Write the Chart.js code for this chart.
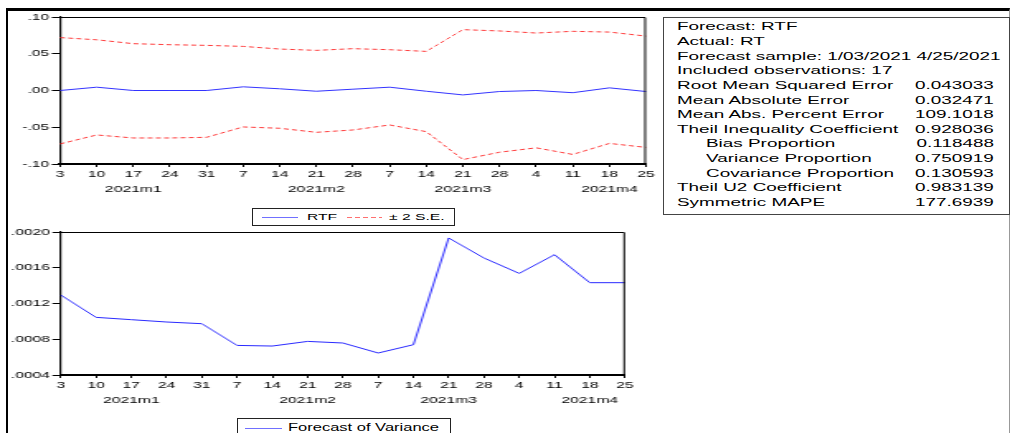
<!DOCTYPE html>
<html>
<head>
<meta charset="utf-8">
<script src="https://cdn.jsdelivr.net/npm/chart.js@4.4.1/dist/chart.umd.min.js"></script>
<style>
    body { margin: 0; background: #fff; width: 1010px; height: 433px; overflow: hidden; position: relative;
           font-family: "Liberation Sans", Arial, sans-serif; color: #000; }
    .frame { position: absolute; left: 6px; top: 8px; width: 1001px; height: 430px;
             border-top: 3px solid #000; border-left: 2px solid #000; border-right: 1px solid #999; }
    .wrap { position: absolute; left: 0; transform-origin: 0 0; transform: scaleX(1.65); }
    .legend { position: absolute; border: 1px solid #222; background: #fff; }
    .swatch { position: absolute; height: 1px; }
    .txt { position: absolute; white-space: nowrap; transform-origin: 0 50%; }
    .stats { position: absolute; left: 663px; top: 17px; width: 345px; height: 196px; border: 1px solid #444; }
</style>
</head>
<body>
<div class="frame"></div>
<div class="wrap" style="top:0"><canvas id="canvas1" width="400" height="200"></canvas></div>
<div class="wrap" style="top:220px"><canvas id="canvas2" width="390" height="200"></canvas></div>

<div class="legend" style="left:252px;top:208px;width:201px;height:16px">
    <div class="swatch" style="left:9px;top:8px;width:36px;background:#7070ff"></div>
    <div class="txt" id="legRtf" style="left:54px;top:1px;font-size:9.5px;line-height:13px;transform:scaleX(1.65)"></div>
    <div class="swatch" style="left:94px;top:8px;width:35px;background:repeating-linear-gradient(90deg,#ff7070 0 5px,transparent 5px 8px)"></div>
    <div class="txt" id="legSe" style="left:136px;top:1px;font-size:9.5px;line-height:13px;transform:scaleX(1.65)"></div>
</div>
<div class="legend" style="left:237px;top:418px;width:212px;height:22px">
    <div class="swatch" style="left:7px;top:9px;width:37px;background:#7070ff"></div>
    <div class="txt" id="legVar" style="left:50px;top:2px;font-size:10px;line-height:13px;transform:scaleX(1.65)"></div>
</div>
<div class="stats" id="stats"></div>

<script>
// x axis: week days, month names under some of them
const days = ['3', '10', '17', '24', '31', '7', '14', '21', '28', '7', '14', '21', '28', '4', '11', '18', '25'];
const monthIndex = [2, 7, 11, 15];
const monthNames = ['2021m1', '2021m2', '2021m3', '2021m4'];

// top chart
const rtf = [0.0, 0.0045, 0.0, 0.0, 0.0, 0.005, 0.0023, -0.001, 0.0018, 0.0045, -0.001, -0.006, -0.0014, 0.0, -0.003, 0.0036, -0.0014];
const upperSE = [0.072, 0.069, 0.0637, 0.0623, 0.0614, 0.060, 0.0564, 0.0546, 0.0569, 0.0555, 0.0532, 0.0828, 0.081, 0.0782, 0.0805, 0.0795, 0.074];
const lowerSE = [-0.0727, -0.0605, -0.0646, -0.0646, -0.0637, -0.0496, -0.0514, -0.0569, -0.0537, -0.0469, -0.056, -0.094, -0.084, -0.078, -0.087, -0.072, -0.0774];

// bottom chart
const forecastVariance = [0.001295, 0.001045, 0.001019, 0.000993, 0.000974, 0.000731, 0.000724, 0.000776, 0.000758, 0.000646, 0.000739, 0.001933, 0.001709, 0.001537, 0.001746, 0.001433, 0.001433];

// statistics box
const statLabels = ['Forecast: RTF', 'Actual: RT', 'Forecast sample: 1/03/2021 4/25/2021', 'Included observations: 17',
    'Root Mean Squared Error', 'Mean Absolute Error', 'Mean Abs. Percent Error', 'Theil Inequality Coefficient',
    'Bias Proportion', 'Variance Proportion', 'Covariance Proportion', 'Theil U2 Coefficient', 'Symmetric MAPE'];
const statValues = ['', '', '', '', '0.043033', '0.032471', '109.1018', '0.928036', '0.118488', '0.750919', '0.130593', '0.983139', '177.6939'];
const statIndent = [8, 9, 10];

const legendNames = ['RTF', '\u00b1 2 S.E.', 'Forecast of Variance'];

$id = function (id) { return document.getElementById(id); };
$id('legRtf').textContent = legendNames[0];
$id('legSe').textContent = legendNames[1];
$id('legVar').textContent = legendNames[2];

// stats rows
let box = $id('stats');
for (let i = 0; i < statLabels.length; i++) {
    let y = 26.3 + i * 14.64 - 17 - 1 - 7;
    let lab = document.createElement('div');
    lab.className = 'txt';
    lab.textContent = statLabels[i];
    lab.style.cssText = 'left:' + (statIndent.includes(i) ? 42 : 13) + 'px;top:' + y + 'px;font-size:10.5px;line-height:14px;transform:scaleX(1.8)';
    box.appendChild(lab);
    if (statValues[i] !== '') {
        let val = document.createElement('div');
        val.className = 'txt';
        val.textContent = statValues[i];
        val.style.cssText = 'right:15px;top:' + y + 'px;font-size:10.5px;line-height:14px;transform:scaleX(1.8);transform-origin:100% 50%';
        box.appendChild(val);
    }
}

// top and right edge of the plot box
const boxLines = {
    id: 'boxLines',
    afterDatasetsDraw(chart) {
        let a = chart.chartArea, ctx = chart.ctx;
        ctx.save();
        ctx.strokeStyle = '#000';
        ctx.lineWidth = 1;
        ctx.beginPath();
        ctx.moveTo(a.left, a.top + 0.5);
        ctx.lineTo(a.right - 0.5, a.top + 0.5);
        ctx.lineTo(a.right - 0.5, a.bottom);
        ctx.stroke();
        ctx.restore();
    }
};

function xLabel(val, idx) {
    let k = monthIndex.indexOf(idx);
    return k >= 0 ? [days[idx], monthNames[k]] : days[idx];
}

function makeChart(target, datasets, y, pad, yWidth, xHeight) {
    return new Chart($id(target), {
        type: 'line',
        data: { labels: days, datasets: datasets },
        plugins: [boxLines],
        options: {
            responsive: false,
            animation: false,
            devicePixelRatio: 1,
            layout: { padding: pad },
            plugins: { legend: { display: false }, tooltip: { enabled: false } },
            elements: { point: { radius: 0 }, line: { tension: 0, borderWidth: 1 } },
            scales: {
                x: {
                    offset: false,
                    grid: { drawOnChartArea: false, drawTicks: true, tickLength: 3, color: '#000' },
                    border: { display: true, color: '#000', width: 2 },
                    ticks: {
                        autoSkip: false, maxRotation: 0, padding: 0, color: '#000',
                        font: { family: 'Liberation Sans', size: 9.5, lineHeight: 1.58 },
                        callback: xLabel
                    },
                    afterFit: function (s) { s.height = xHeight; }
                },
                y: {
                    min: y.min, max: y.max,
                    grid: { drawOnChartArea: false, drawTicks: true, tickLength: 5, color: '#000' },
                    border: { display: true, color: '#000', width: 1.2 },
                    ticks: {
                        stepSize: y.step, padding: 1.5, color: '#000',
                        font: { family: 'Liberation Sans', size: 9.5 },
                        callback: y.fmt
                    },
                    afterFit: function (s) { s.width = yWidth; }
                }
            }
        }
    });
}

makeChart('canvas1', [
    { label: legendNames[0], data: rtf, borderColor: '#3333ff' },
    { label: legendNames[1], data: upperSE, borderColor: '#ff3b3b', borderDash: [3, 2] },
    { label: '', data: lowerSE, borderColor: '#ff3b3b', borderDash: [3, 2] }
], {
    min: -0.1, max: 0.1, step: 0.05,
    fmt: function (v) { return v.toFixed(2).replace(/^(-?)0\./, '$1.'); }
}, { top: 17, right: 8.5, left: 0, bottom: 0 }, 36.4, 36);

makeChart('canvas2', [
    { label: legendNames[2], data: forecastVariance, borderColor: '#2a2aff' }
], {
    min: 0.0004, max: 0.002, step: 0.0004,
    fmt: function (v) { return v.toFixed(4).replace(/^0/, ''); }
}, { top: 12, right: 11.2, left: 0, bottom: 0 }, 36.8, 45);
</script>
</body>
</html>
